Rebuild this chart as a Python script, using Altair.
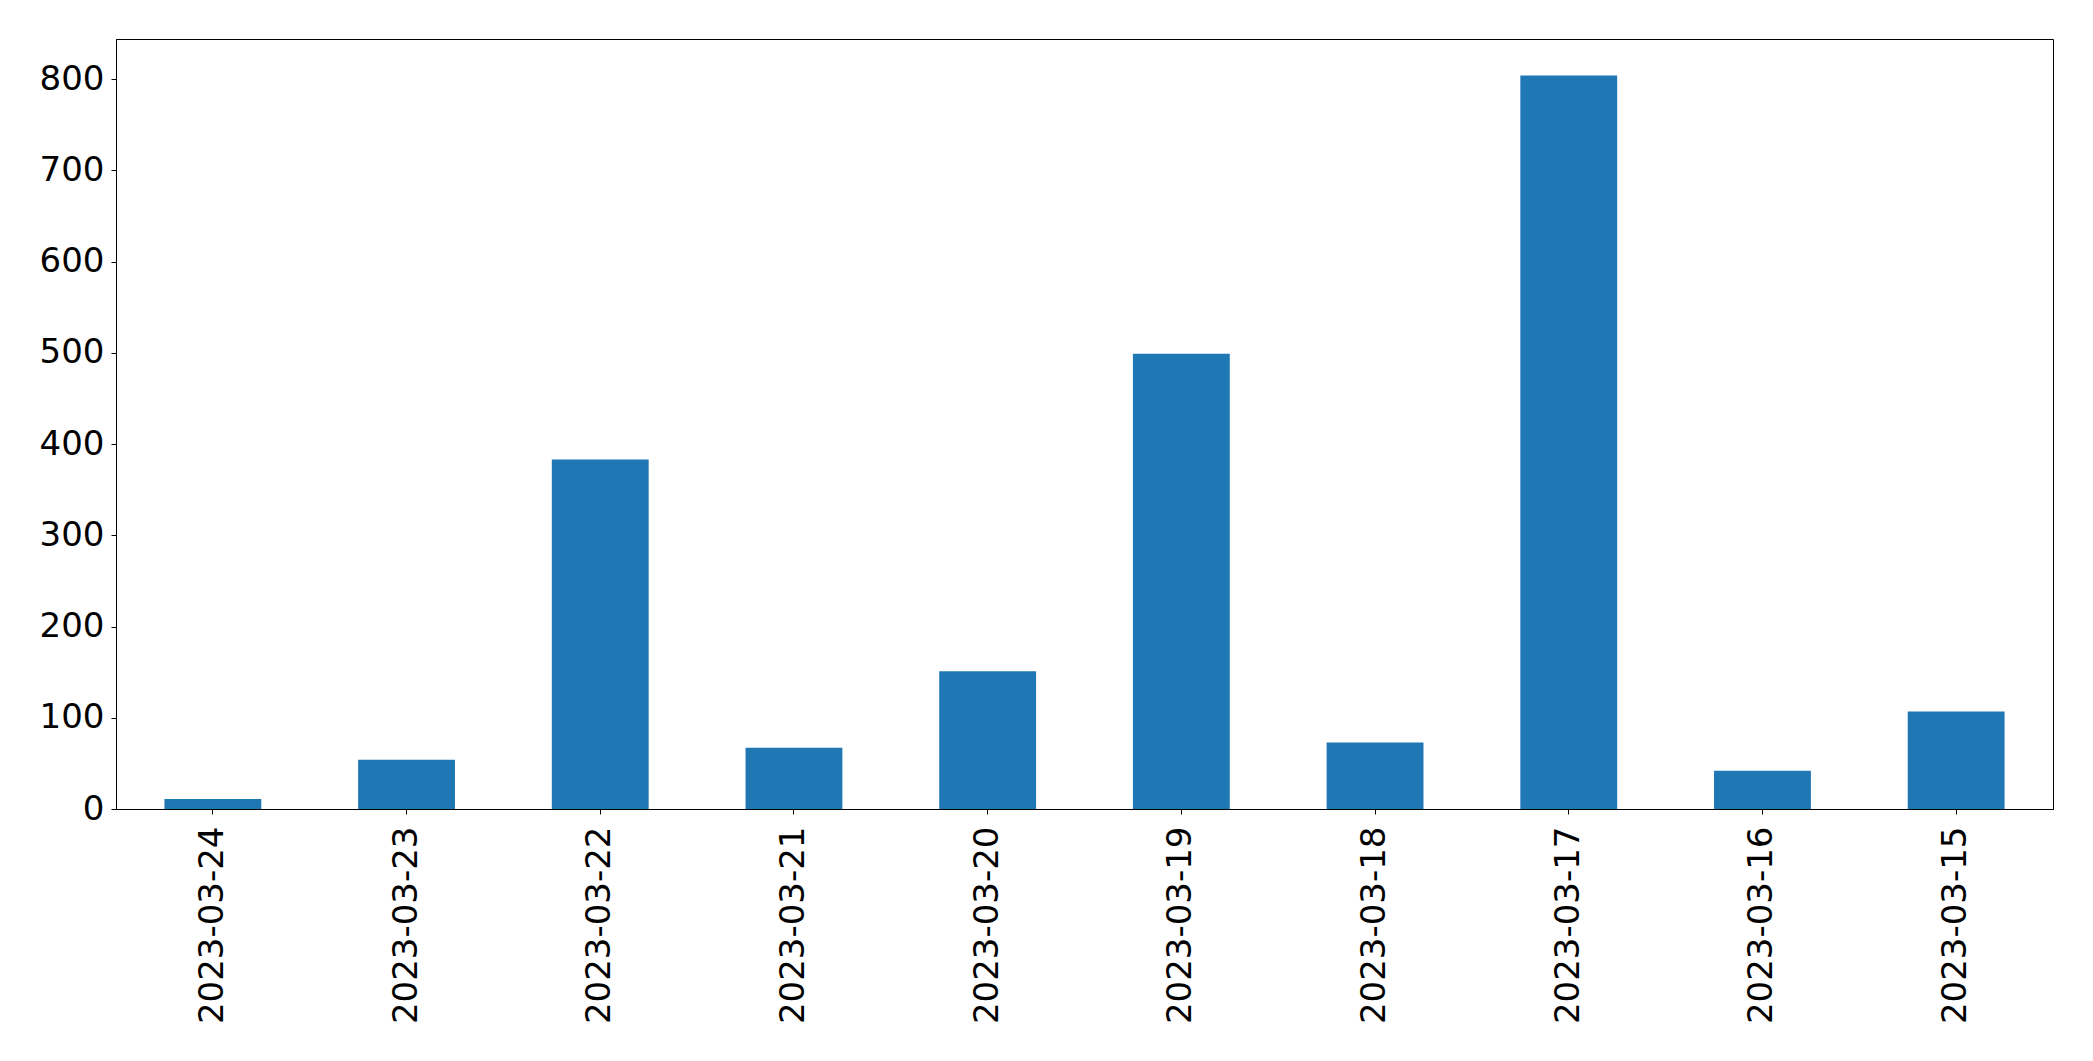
import altair as alt
import pandas as pd

dates = ["2023-03-24", "2023-03-23", "2023-03-22", "2023-03-21", "2023-03-20",
         "2023-03-19", "2023-03-18", "2023-03-17", "2023-03-16", "2023-03-15"]
counts = [11, 54, 383, 67, 151, 499, 73, 804, 42, 107]
y_ticks = [0, 100, 200, 300, 400, 500, 600, 700, 800]

df = pd.DataFrame({"date": dates, "count": counts})

chart = alt.Chart(df).mark_bar(color="#1f77b4").encode(
    x=alt.X("date:N", sort=dates, title=None,
            scale=alt.Scale(paddingInner=0.5, paddingOuter=0.25),
            axis=alt.Axis(labelAngle=-90, labelAlign="right", labelBaseline="middle",
                          labelPadding=12, tickSize=5, labelFontSize=34, labelLimit=0,
                          labelFont="DejaVu Sans", labelColor="black",
                          domainColor="black", tickColor="black")),
    y=alt.Y("count:Q", title=None,
            scale=alt.Scale(domain=[0, 844], nice=False, zero=True),
            axis=alt.Axis(values=y_ticks, grid=False, tickSize=5, labelPadding=7,
                          labelFontSize=34, labelFont="DejaVu Sans", labelColor="black",
                          domainColor="black", tickColor="black")),
).properties(
    width=1937, height=770,
    autosize=alt.AutoSizeParams(type="none"),
    padding={"left": 108, "top": 31, "right": 20, "bottom": 230},
).configure_view(
    stroke="black", strokeWidth=1
)

chart.save("out.html", embed_options={"renderer": "svg", "actions": False})
